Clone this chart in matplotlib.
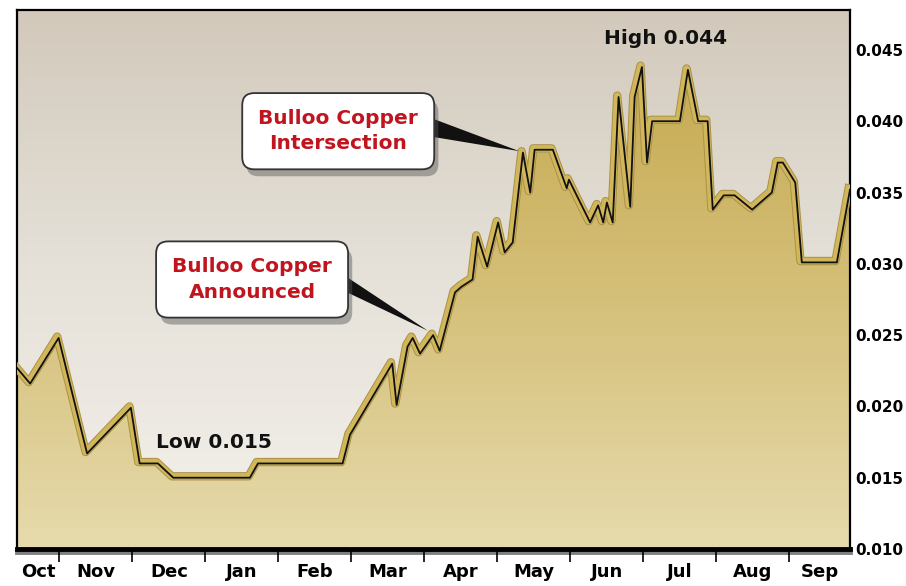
import numpy as np
import matplotlib.pyplot as plt
import matplotlib.patheffects as pe
from matplotlib.colors import LinearSegmentedColormap
from matplotlib.patches import Polygon

# price data (month position: 0 = start of Oct, 1 = start of Nov ...)
month_pos = [0.42, 0.60, 0.99, 1.38, 1.98, 2.10, 2.35, 2.56, 3.61, 3.72, 4.88, 4.98,
             5.56, 5.62, 5.77, 5.84, 5.94, 6.12, 6.21, 6.42, 6.51, 6.66, 6.73, 6.86,
             7.01, 7.10, 7.21, 7.35, 7.45, 7.51, 7.76, 7.95, 7.98, 8.27, 8.38, 8.45,
             8.50, 8.58, 8.66, 8.82, 8.88, 8.98, 9.05, 9.12, 9.50, 9.61, 9.75, 9.88,
             9.95, 10.10, 10.25, 10.49, 10.76, 10.84, 10.91, 11.08, 11.17, 11.65, 11.83]
price = [0.0227, 0.0216, 0.0248, 0.0167, 0.0199, 0.0160, 0.0160, 0.0150, 0.0150, 0.0160,
         0.0160, 0.0180, 0.0230, 0.0201, 0.0242, 0.0248, 0.0237, 0.0250, 0.0239, 0.0280,
         0.0284, 0.0289, 0.0319, 0.0298, 0.0329, 0.0308, 0.0315, 0.0378, 0.0350, 0.0380,
         0.0380, 0.0353, 0.0359, 0.0329, 0.0341, 0.0329, 0.0343, 0.0329, 0.0417, 0.0340,
         0.0417, 0.0438, 0.0371, 0.0400, 0.0400, 0.0436, 0.0400, 0.0400, 0.0338, 0.0348,
         0.0348, 0.0338, 0.0350, 0.0371, 0.0371, 0.0357, 0.0301, 0.0301, 0.0352]

months = ['Oct', 'Nov', 'Dec', 'Jan', 'Feb', 'Mar', 'Apr', 'May', 'Jun', 'Jul', 'Aug', 'Sep']
yticks = [0.010, 0.015, 0.020, 0.025, 0.030, 0.035, 0.040, 0.045]

xlo, xhi = 0.42, 11.83
ylo, yhi = 0.010, 0.0478

narrow = ['DejaVu Sans Condensed', 'Liberation Sans Narrow', 'DejaVu Sans']

fig = plt.figure(figsize=(9.06, 5.86), dpi=100)
ax = fig.add_axes([17/906, 37/586, 833/906, 539/586])
ax.set_xlim(xlo, xhi)
ax.set_ylim(ylo, yhi)

# background gradient
bg_cmap = LinearSegmentedColormap.from_list('bg', ['#f4f1eb', '#e6e2da', '#d2c9bb'])
grad = np.linspace(0, 1, 256).reshape(-1, 1)
ax.imshow(grad, extent=[xlo, xhi, ylo, yhi], origin='lower', aspect='auto',
          cmap=bg_cmap, zorder=0)

# gold area with gradient fill
gold_cmap = LinearSegmentedColormap.from_list('gold', ['#e7dbad', '#d5c07a', '#c5a94f'])
im = ax.imshow(grad, extent=[xlo, xhi, ylo, 0.045], origin='lower', aspect='auto',
               cmap=gold_cmap, zorder=1)
verts = [(month_pos[0], ylo)] + list(zip(month_pos, price)) + [(month_pos[-1], ylo)]
area = Polygon(verts, closed=True, facecolor='none', edgecolor='none', transform=ax.transData)
ax.add_patch(area)
im.set_clip_path(area)

# line: gold band with a dark edge
ax.plot(month_pos, price, color='#111111', lw=1.3, zorder=3, solid_joinstyle='round',
        path_effects=[pe.Stroke(linewidth=6, foreground='#a89248', offset=(-1, 1)),
                      pe.Stroke(linewidth=4.6, foreground='#d2b75a', offset=(-1, 1)),
                      pe.Normal()])

# axes styling
for s in ['left', 'right', 'top']:
    ax.spines[s].set_linewidth(1.6)
ax.spines['bottom'].set_linewidth(3.5)
ax.spines['bottom'].set_path_effects([pe.SimpleLineShadow(offset=(0, -2), alpha=0.5), pe.Normal()])

ax.yaxis.tick_right()
ax.set_yticks(yticks)
ax.set_yticklabels([f'{v:.3f}' for v in yticks], family=narrow, fontsize=11, fontweight='bold')
ax.tick_params(axis='y', length=0, pad=4)

centers = [(max(i, xlo) + min(i + 1, xhi)) / 2 for i in range(12)]
ax.set_xticks(centers)
ax.set_xticklabels(months, family=narrow, fontsize=13, fontweight='bold')
ax.set_xticks(range(1, 12), minor=True)
ax.tick_params(axis='x', which='major', length=0, pad=10)
ax.tick_params(axis='x', which='minor', length=9, width=1.2, direction='out')

# callouts
def callout(text, pos, base, tip):
    wedge = Polygon([base[0], base[1], tip], closed=True, facecolor='#111111',
                    edgecolor='none', zorder=4, transform=ax.transData)
    ax.add_patch(wedge)
    t = ax.text(pos[0], pos[1], text, ha='center', va='center', color='#c0141f',
                family=narrow, fontsize=14.5, fontweight='bold', linespacing=1.4, zorder=5,
                bbox=dict(boxstyle='round,pad=0.8,rounding_size=0.6', fc='white',
                          ec='#333333', lw=1.3))
    t.get_bbox_patch().set_path_effects([
        pe.SimplePatchShadow(offset=(3, -5), shadow_rgbFace='#555555', alpha=0.45),
        pe.Normal()])

callout('Bulloo Copper\nIntersection', (4.82, 0.0393),
        [(6.0, 0.0404), (6.0, 0.0390)], (7.30, 0.0379))
callout('Bulloo Copper\nAnnounced', (3.64, 0.0289),
        [(4.90, 0.0292), (4.90, 0.0281)], (6.05, 0.0253))

ax.text(3.12, 0.0175, 'Low 0.015', ha='center', va='center', family=narrow,
        fontsize=14.5, fontweight='bold', color='#111111', zorder=5)
ax.text(9.31, 0.0458, 'High 0.044', ha='center', va='center', family=narrow,
        fontsize=14.5, fontweight='bold', color='#111111', zorder=5)

fig.savefig('out.png', dpi=100)
